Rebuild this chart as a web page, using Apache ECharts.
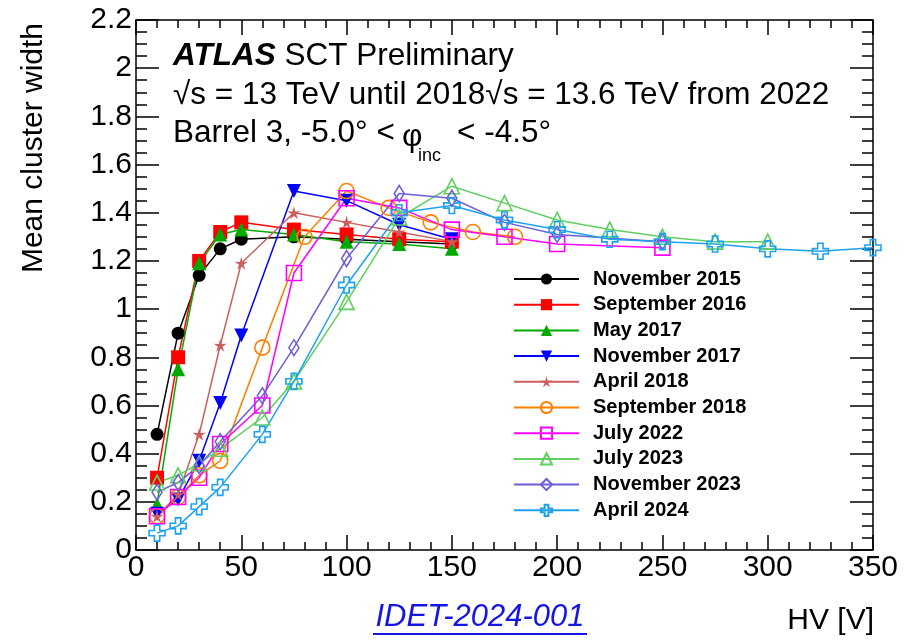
<!DOCTYPE html>
<html><head><meta charset="utf-8">
<script src="https://cdn.jsdelivr.net/npm/echarts@6/dist/echarts.min.js"></script>
<style>html,body{margin:0;padding:0;background:#fff}#c{width:910px;height:641px}</style>
</head><body><div id="c"></div>
<script>
// ---- data ----
const hv2015 = [10,20,30,40,50,75,100,125,150];
const nov2015 = [0.48,0.90,1.14,1.25,1.29,1.30,1.29,1.28,1.27];
const sep2016 = [0.30,0.80,1.20,1.32,1.36,1.33,1.31,1.29,1.28];
const may2017 = [0.19,0.75,1.19,1.31,1.33,1.31,1.28,1.27,1.25];
const nov2017 = [0.15,0.21,0.37,0.61,0.89,1.49,1.45,1.35,1.29];
const apr2018 = [0.14,0.23,0.48,0.85,1.19,1.40,1.36,1.32,1.28];
const hvSep2018 = [10,20,30,40,60,80,100,120,140,160,180];
const sep2018 = [0.14,0.22,0.31,0.37,0.84,1.30,1.49,1.42,1.36,1.32,1.30];
const hvJul2022 = [10,20,30,40,60,75,100,125,150,175,200,250];
const jul2022 = [0.14,0.22,0.30,0.44,0.60,1.15,1.46,1.42,1.33,1.30,1.27,1.255];
const hvJul2023 = [10,20,30,40,60,75,100,125,150,175,200,225,250,275,300];
const jul2023 = [0.28,0.31,0.36,0.42,0.55,0.70,1.03,1.38,1.51,1.44,1.37,1.33,1.30,1.28,1.28];
const hvNov2023 = [10,20,30,40,60,75,100,125,150,175,200,250];
const nov2023 = [0.24,0.28,0.35,0.45,0.64,0.84,1.21,1.48,1.46,1.36,1.31,1.28];
const hvApr2024 = [10,20,30,40,60,75,100,125,150,175,200,225,250,275,300,325,350];
const apr2024 = [0.07,0.10,0.18,0.26,0.48,0.70,1.10,1.40,1.43,1.37,1.33,1.29,1.28,1.27,1.25,1.24,1.255];
const seriesNames = ['November 2015','September 2016','May 2017','November 2017','April 2018',
  'September 2018','July 2022','July 2023','November 2023','April 2024'];

// ---- styling ----
const STAR = 'path://M0,-10 L2.06,-2.83 L9.51,-3.09 L3.33,1.08 L5.88,8.09 L0,3.5 L-5.88,8.09 L-3.33,1.08 L-9.51,-3.09 L-2.06,-2.83 Z';
const PLUS = 'path://M-3,-9 L3,-9 L3,-3 L9,-3 L9,3 L3,3 L3,9 L-3,9 L-3,3 L-9,3 L-9,-3 L-3,-3 Z';
const FONT = 'Liberation Sans';
const TS = 31.5;

function pairs(xs, ys){ return xs.map((x,i)=>[x, ys[i]]); }
function mk(name, xs, ys, col, symbol, size, hollow, rotate){
  return {
    name, type:'line', data: pairs(xs, ys), symbol, symbolSize:size, symbolRotate: rotate||0,
    lineStyle:{color:col, width:1.5},
    itemStyle: hollow ? {color:'rgba(255,255,255,0)', borderColor:col, borderWidth:1.6} : {color:col},
    emphasis:{disabled:true}, animation:false, z: 3
  };
}
const series = [
  mk(seriesNames[0], hv2015, nov2015, '#000000', 'circle', 13, false),
  mk(seriesNames[1], hv2015, sep2016, '#ff0000', 'rect', 14, false),
  mk(seriesNames[2], hv2015, may2017, '#00aa00', 'triangle', 14, false),
  mk(seriesNames[3], hv2015, nov2017, '#0000ff', 'triangle', 14, false, 180),
  mk(seriesNames[4], hv2015, apr2018, '#cd5c5c', STAR, 13, false),
  mk(seriesNames[5], hvSep2018, sep2018, '#ff8000', 'circle', 15, true),
  mk(seriesNames[6], hvJul2022, jul2022, '#ff00ff', 'rect', 15, true),
  mk(seriesNames[7], hvJul2023, jul2023, '#5fcf5f', 'triangle', 15, true),
  mk(seriesNames[8], hvNov2023, nov2023, '#6a5fd8', 'diamond', [10,16], true),
  mk(seriesNames[9], hvApr2024, apr2024, '#1ea2f0', PLUS, 16, true)
];

const lineSt = {color:'#000', width:1.5};
function xAx(pos, labels){
  return {type:'value', min:0, max:350, interval:50, position:pos, gridIndex:0,
    axisLine:{show:true, onZero:false, lineStyle:lineSt},
    axisTick:{show:true, inside:true, length:15, lineStyle:lineSt},
    minorTick:{show:true, splitNumber:5, length:8, lineStyle:lineSt},
    splitLine:{show:false}, minorSplitLine:{show:false},
    axisLabel:{show:labels, fontSize:30, color:'#000', fontFamily:FONT, margin:3}};
}
function yAx(pos, labels){
  return {type:'value', min:0, max:2.2, interval:0.2, position:pos, gridIndex:0,
    axisLine:{show:true, onZero:false, lineStyle:lineSt},
    axisTick:{show:true, inside:true, length:23, lineStyle:lineSt},
    minorTick:{show:true, splitNumber:4, length:11, lineStyle:lineSt},
    splitLine:{show:false}, minorSplitLine:{show:false},
    axisLabel:{show:labels, fontSize:30, color:'#000', fontFamily:FONT, margin:4,
      formatter: v => String(Math.round(v*10)/10)}};
}

const chart = echarts.init(document.getElementById('c'), null, {renderer:'canvas'});
chart.setOption({
  animation:false,
  backgroundColor:'#fff',
  grid:{left:136, right:37, top:20, bottom:91, containLabel:false},
  xAxis:[xAx('bottom', true), xAx('top', false)],
  yAxis:[yAx('left', true), yAx('right', false)],
  legend:{orient:'vertical', left:513, top:269, padding:0, itemWidth:65, itemHeight:14, itemGap:5.7,
    data:seriesNames, selectedMode:false,
    textStyle:{fontSize:20, fontWeight:'bold', fontFamily:FONT, color:'#000', lineHeight:20, padding:[0,0,0,9]}},
  series,
  graphic:[
    {type:'text', left:173, top:40, style:{text:'{b|ATLAS} SCT Preliminary', fontSize:TS, fontFamily:FONT, fill:'#000',
      rich:{b:{fontSize:TS, fontFamily:FONT, fontWeight:'bold', fontStyle:'italic', fill:'#000'}}}},
    {type:'text', left:173, top:79, style:{text:'√s = 13 TeV until 2018√s = 13.6 TeV from 2022', fontSize:TS, fontFamily:FONT, fill:'#000'}},
    {type:'text', left:173, top:117, style:{text:'Barrel 3, -5.0° <', fontSize:TS, fontFamily:FONT, fill:'#000'}},
    {type:'text', left:402, top:121, style:{text:'φ', fontSize:TS, fontFamily:FONT, fill:'#000'}},
    {type:'text', left:418, top:147, style:{text:'inc', fontSize:18, fontFamily:FONT, fill:'#000'}},
    {type:'text', left:457, top:117, style:{text:'< -4.5°', fontSize:TS, fontFamily:FONT, fill:'#000'}},
    {type:'text', x:34, y:148, rotation:Math.PI/2, style:{text:'Mean cluster width', fontSize:30, fontFamily:FONT, fill:'#000', align:'center', verticalAlign:'middle'}},
    {type:'text', right:36, top:606, style:{text:'HV [V]', fontSize:30, fontFamily:FONT, fill:'#000'}},
    {type:'text', x:480, y:617, style:{text:'IDET-2024-001', fontSize:31, fontFamily:FONT, fontStyle:'italic', fill:'#1515e6', align:'center', verticalAlign:'middle'}},
    {type:'line', shape:{x1:373, y1:634, x2:587, y2:634}, style:{stroke:'#1515e6', lineWidth:2}}
  ]
});
</script></body></html>
